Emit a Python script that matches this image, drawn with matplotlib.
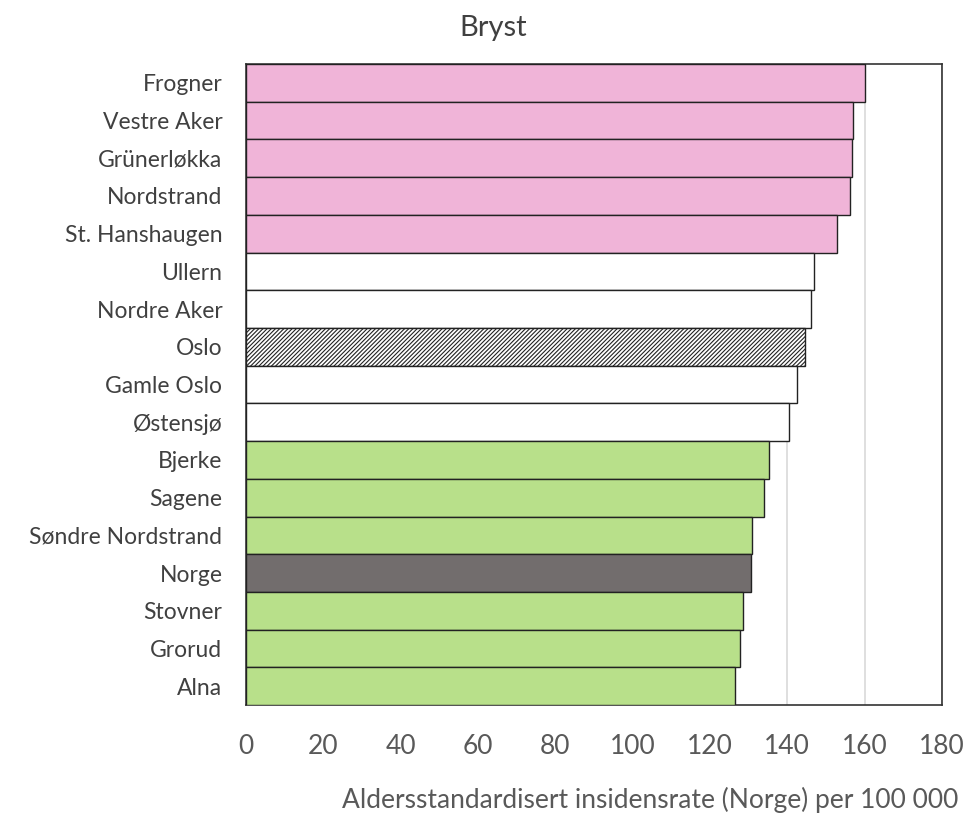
import matplotlib.pyplot as plt

plt.rcParams['font.family'] = ['Lato', 'DejaVu Sans']
plt.rcParams['hatch.color'] = "#555555"
plt.rcParams['hatch.linewidth'] = 0.8

bydeler = ["Frogner", "Vestre Aker", "Grünerløkka", "Nordstrand", "St. Hanshaugen",
           "Ullern", "Nordre Aker", "Oslo", "Gamle Oslo", "Østensjø", "Bjerke",
           "Sagene", "Søndre Nordstrand", "Norge", "Stovner", "Grorud", "Alna"]
rate = [160.1, 157.0, 156.7, 156.2, 152.8, 146.9, 146.1, 144.5, 142.5, 140.4,
        135.2, 133.9, 130.8, 130.5, 128.5, 127.7, 126.6]

pink = "#f0b4d8"
green = "#b8e08a"
farger = []
for i, navn in enumerate(bydeler):
    if navn == "Norge":
        farger.append("#726d6d")
    elif navn == "Oslo":
        farger.append("white")
    elif i < 5:
        farger.append(pink)
    elif i < 10:
        farger.append("white")
    else:
        farger.append(green)

fig = plt.figure(figsize=(9.7, 8.18), dpi=100)
ax = fig.add_axes([0.2536, 0.138, 0.7175, 0.7838])

y = list(range(len(bydeler)))
bars = ax.barh(y, rate, height=1.0, color=farger, edgecolor="#222222", linewidth=1.0, zorder=3)
bars[bydeler.index("Oslo")].set_hatch("////////")

ax.set_ylim(len(bydeler) - 0.5, -0.5)
ax.set_xlim(0, 180)
ax.set_xticks(range(0, 181, 20))
ax.set_yticks(y)
ax.set_yticklabels(bydeler)
ax.tick_params(axis="y", length=0, labelsize=16.5, labelcolor="#404040", pad=17)
ax.tick_params(axis="x", length=0, labelsize=19, labelcolor="#595959", pad=21)
ax.grid(axis="x", color="#d9d9d9", linewidth=1.2, zorder=0)
for s in ax.spines.values():
    s.set_color("#333333")
    s.set_linewidth(1.2)

fig.text(0.508, 0.966, "Bryst", fontsize=21, color="#404040", ha="center", va="center")
fig.text(0.670, 0.022, "Aldersstandardisert insidensrate (Norge) per 100 000",
         fontsize=19, color="#595959", ha="center", va="center")

fig.savefig("out.png", dpi=100)
